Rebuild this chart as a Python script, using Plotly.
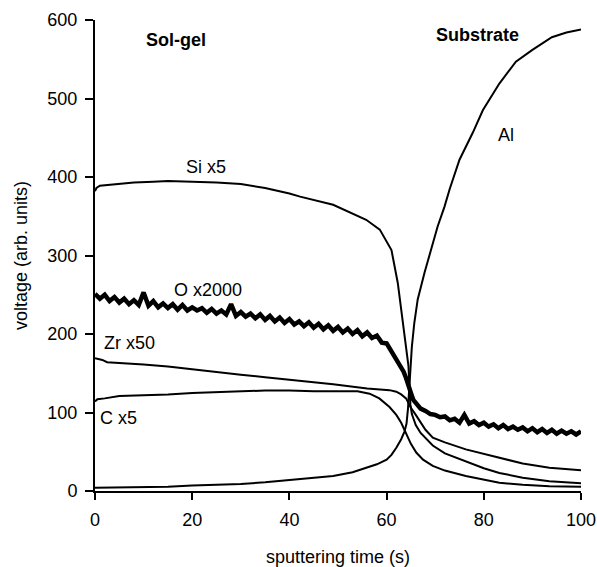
import plotly.graph_objects as go

# ---- data ----
time_si = [0, 0.3, 1, 4, 8, 12, 15, 20, 25, 30, 35, 40, 42.2, 49, 55.8, 58.6, 59.4, 61, 62.3, 63,
           63.7, 64.2, 64.5, 64.7, 64.9, 65.2, 66, 67, 69.5, 72, 76.3, 80, 83.2, 88, 93.5, 100]
si_x5 = [382, 386, 389, 391, 393, 394, 395, 394, 393, 391, 386, 379, 375, 364.6, 345.5, 333, 324, 307, 265, 231,
         201, 176, 159, 133, 110, 98, 84, 74, 58, 48, 38, 29, 23, 17, 12.5, 10]

time_o = [0, 1, 2, 3, 4, 5, 6, 7, 8, 9, 10, 11, 12, 13, 14, 15, 16, 17, 18, 19, 20,
          21, 22, 23, 24, 25, 26, 27, 28, 29, 30, 31, 32, 33, 34, 35, 36, 37, 38, 39, 40,
          41, 42, 43, 44, 45, 46, 47, 48, 49, 50, 51, 52, 53, 54, 55, 56, 57, 58, 59, 60,
          61, 62, 63, 63.5, 64, 64.5, 65, 65.5, 66, 67, 68, 69, 70,
          71, 72, 73, 74, 75, 76, 77, 78, 79, 80, 81, 82, 83, 84, 85, 86, 87, 88, 89, 90,
          91, 92, 93, 94, 95, 96, 97, 98, 99, 100]
o_x2000 = [251, 245, 250, 242, 247, 240, 245, 238, 243, 237, 253, 236, 242, 234, 239, 233, 238, 231, 237, 230, 234,
           230, 233, 227, 232, 226, 230, 225, 238, 223, 228, 222, 226, 220, 225, 218, 223, 216, 221, 214, 219,
           212, 216, 210, 215, 208, 213, 206, 211, 204, 209, 202, 207, 200, 205, 197, 202, 195, 198, 189, 188,
           178, 169, 157, 152, 144, 136, 125, 116, 112, 105, 102, 98, 97,
           94, 95, 90, 92, 87, 97, 86, 89, 84, 87, 82, 85, 80, 84, 79, 82, 78, 81, 76, 80,
           75, 79, 74, 78, 73, 77, 73, 76, 72, 76]

time_zr = [0, 1.5, 2.5, 8, 10, 15, 20, 25, 30, 35, 40, 45, 49, 56, 60.6, 62, 63, 64, 65, 66, 67, 68,
           69.5, 72, 76.3, 80, 83.2, 88, 93.5, 100]
zr_x50 = [169, 167, 164, 162, 161, 158.5, 155, 151, 148, 145, 142, 139, 136, 130.5, 128.5, 126.5, 123, 118, 106, 97, 87, 78,
          68, 62, 53, 47, 42, 35, 29.5, 26.5]

time_c = [0, 0.5, 2, 5, 10, 15, 20, 25, 30, 35, 40, 45, 50, 54, 56.5, 58.5, 60.6, 62, 63, 63.7, 64.3, 65,
          66.1, 67.5, 69.5, 72, 76.3, 80, 83.2, 88, 93.5, 100]
c_x5 = [114, 117, 118, 121, 122, 123, 125, 126, 127, 128, 128, 127, 127, 127, 124, 118, 107, 97, 87, 77, 68, 60,
        49, 40, 32, 26, 19, 14, 10.5, 8, 6, 5.3]

time_al = [0, 5, 10, 15, 20, 25, 30, 35, 40, 45, 49, 53, 56, 58, 60, 61, 62, 63, 63.7, 64.1, 64.4, 64.6,
           64.8, 64.9, 65.2, 65.7, 66.4, 67.8, 69.2, 70.5, 71.9, 73, 75, 77.7, 79.8, 83.2, 86.6, 90, 94, 97, 100]
al = [4, 4.5, 5, 5.5, 7, 8, 9, 11, 14, 16.5, 19, 24, 29.5, 34, 40, 46, 55, 66, 76, 86, 105, 125,
      145, 159, 184, 214, 244, 278, 307, 337, 362, 385, 422, 456, 485, 519, 547, 562, 578, 584, 588]

x_ticks = [0, 20, 40, 60, 80, 100]
y_ticks = [0, 100, 200, 300, 400, 500, 600]

labels = ["Sol-gel", "Substrate", "Si x5", "O x2000", "Zr x50", "C x5", "Al"]
label_x = [16.7, 78.6, 22.9, 23.3, 7.1, 4.8, 84.5]
label_y = [574.6, 581, 413, 256.4, 189, 93.5, 453.7]
label_bold = [True, True, False, False, False, False, False]

FONT = "Liberation Sans, Arial, Helvetica, sans-serif"

fig = go.Figure()
series = [(time_si, si_x5, 2), (time_o, o_x2000, 4.5), (time_zr, zr_x50, 2),
          (time_c, c_x5, 2), (time_al, al, 2)]
for tx, ty, w in series:
    fig.add_trace(go.Scatter(x=tx, y=ty, mode="lines",
                             line=dict(color="black", width=w), showlegend=False,
                             hoverinfo="skip"))

for t, lx, ly, b in zip(labels, label_x, label_y, label_bold):
    fig.add_annotation(x=lx, y=ly, xref="x", yref="y", text=f"<b>{t}</b>" if b else t,
                       showarrow=False, xanchor="center", yanchor="middle",
                       font=dict(family=FONT, size=18, color="black"))

fig.update_layout(
    template="none",
    width=597, height=567,
    margin=dict(l=94.5, r=15.5, t=20, b=75.5, autoexpand=False),
    plot_bgcolor="white", paper_bgcolor="white",
    font=dict(family=FONT, size=18, color="black"),
    xaxis=dict(range=[0, 100], tickvals=x_ticks, showgrid=False, zeroline=False, automargin=False,
               showline=True, linecolor="black", linewidth=2,
               ticks="outside", ticklen=7, tickwidth=2, tickcolor="black", ticklabelstandoff=4,
               tickfont=dict(family=FONT, size=18),
               title=dict(text="sputtering time (s)", font=dict(family=FONT, size=18), standoff=24)),
    yaxis=dict(range=[0, 600], tickvals=y_ticks, showgrid=False, zeroline=False, automargin=False,
               showline=True, linecolor="black", linewidth=2,
               ticks="outside", ticklen=8, tickwidth=2, tickcolor="black", ticklabelstandoff=4,
               tickfont=dict(family=FONT, size=18),
               title=dict(text="voltage (arb. units)", font=dict(family=FONT, size=18), standoff=15)),
)

# remove the default 8px page margin so the figure fills the window exactly
fig.write_html("out.html",
               config={"displayModeBar": False},
               post_script="document.body.style.margin='0';"
                           "document.documentElement.style.overflow='hidden';")
